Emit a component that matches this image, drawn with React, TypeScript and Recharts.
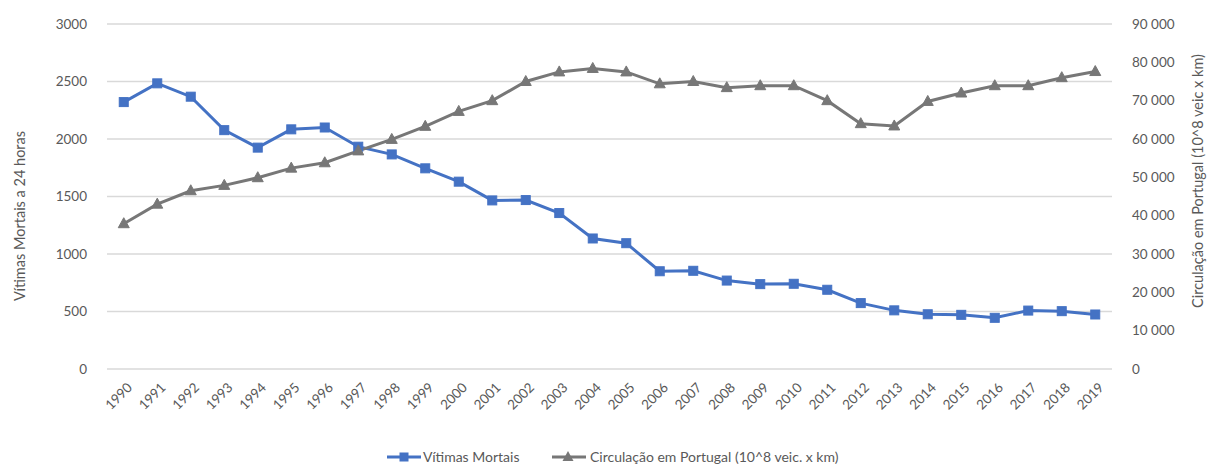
import { CartesianGrid, Legend, Line, LineChart, XAxis, YAxis } from 'recharts'

const years = [
  '1990', '1991', '1992', '1993', '1994', '1995', '1996', '1997', '1998', '1999',
  '2000', '2001', '2002', '2003', '2004', '2005', '2006', '2007', '2008', '2009',
  '2010', '2011', '2012', '2013', '2014', '2015', '2016', '2017', '2018', '2019',
]
const vitimas = [
  2321, 2484, 2368, 2077, 1925, 2084, 2100, 1933, 1866, 1745,
  1629, 1466, 1469, 1356, 1135, 1094, 850, 854, 769, 738,
  741, 689, 573, 510, 476, 471, 445, 508, 503, 474,
]
const circulacao = [
  37900, 43000, 46500, 47900, 49900, 52400, 53800, 56900, 59900, 63300,
  67200, 70000, 75000, 77500, 78400, 77500, 74400, 75000, 73400, 73900,
  73900, 70000, 64000, 63400, 69800, 72000, 73900, 73900, 76000, 77600,
]
const leftTicks = [0, 500, 1000, 1500, 2000, 2500, 3000]
const rightTicks = [0, 10000, 20000, 30000, 40000, 50000, 60000, 70000, 80000, 90000]

const BLUE = '#4472c4'
const GREY = '#777777'
const TEXT = '#595959'
const FONT = 'Lato, "Open Sans", sans-serif'

const rows = years.map((year, i) => ({ year, vitimas: vitimas[i], circulacao: circulacao[i] }))

const fmtThousands = (v: number) => (v >= 1000 ? `${Math.floor(v / 1000)} ${String(v % 1000).padStart(3, '0')}` : String(v))

function SquareDot({ cx, cy }: any) {
  if (cx == null || cy == null) return null
  return <rect x={cx - 4.5} y={cy - 4.5} width={9} height={9} fill={BLUE} stroke={BLUE} strokeWidth={1} />
}

function TriangleDot({ cx, cy }: any) {
  if (cx == null || cy == null) return null
  return <polygon points={`${cx},${cy - 6} ${cx + 5.5},${cy + 4} ${cx - 5.5},${cy + 4}`} fill={GREY} stroke={GREY} strokeWidth={1} />
}

function YearTick({ x, y, payload }: any) {
  return (
    <text
      x={x + 2}
      y={y + 4}
      transform={`rotate(-45, ${x + 2}, ${y + 4})`}
      textAnchor="end"
      dominantBaseline="hanging"
      fill={TEXT}
      fontSize={13.5}
      fontFamily={FONT}
    >
      {payload.value}
    </text>
  )
}

// axis titles, rotated like the Excel original
function AxisTitle({ posX, posY, text }: { posX: number; posY: number; text: string }) {
  return (
    <text
      x={posX}
      y={posY}
      transform={`rotate(-90, ${posX}, ${posY})`}
      textAnchor="middle"
      dominantBaseline="central"
      fill={TEXT}
      fontSize={14.5}
      fontFamily={FONT}
    >
      {text}
    </text>
  )
}

function ChartLegend() {
  return (
    <div style={{ position: 'relative', height: 18, fontFamily: FONT, fontSize: 14, color: TEXT, lineHeight: '18px' }}>
      <svg width={36} height={18} style={{ position: 'absolute', left: 386, top: 0 }}>
        <line x1={1} y1={9} x2={35} y2={9} stroke={BLUE} strokeWidth={3} />
        <rect x={13.5} y={4.5} width={9} height={9} fill={BLUE} />
      </svg>
      <span style={{ position: 'absolute', left: 423, top: 0, whiteSpace: 'nowrap' }}>Vítimas Mortais</span>
      <svg width={36} height={18} style={{ position: 'absolute', left: 551, top: 0 }}>
        <line x1={1} y1={9} x2={35} y2={9} stroke={GREY} strokeWidth={3} />
        <polygon points="17,3 22.5,13 11.5,13" fill={GREY} />
      </svg>
      <span style={{ position: 'absolute', left: 590, top: 0, whiteSpace: 'nowrap' }}>
        Circulação em Portugal (10^8 veic. x km)
      </span>
    </div>
  )
}

export default function App() {
  return (
    <div style={{ width: 1210, height: 466, background: '#fff' }}>
      <style>{'body{margin:0}'}</style>
      <LineChart width={1210} height={466} data={rows} margin={{ top: 24, right: 0, bottom: 0, left: 0 }}>
        <CartesianGrid yAxisId="left" vertical={false} stroke="#d9d9d9" strokeWidth={1.5} />
        <XAxis
          dataKey="year"
          scale="band"
          interval={0}
          axisLine={false}
          tickLine={false}
          height={79}
          tick={<YearTick />}
        />
        <YAxis
          yAxisId="left"
          domain={[0, 3000]}
          ticks={leftTicks}
          width={107}
          axisLine={false}
          tickLine={false}
          tickMargin={14}
          tick={{ fill: TEXT, fontSize: 13.5, fontFamily: FONT }}
          label={<AxisTitle posX={19} posY={216} text="Vítimas Mortais a 24 horas" />}
        />
        <YAxis
          yAxisId="right"
          orientation="right"
          domain={[0, 90000]}
          ticks={rightTicks}
          width={98}
          axisLine={false}
          tickLine={false}
          tickMargin={14}
          tickFormatter={fmtThousands}
          tick={{ fill: TEXT, fontSize: 13.5, fontFamily: FONT }}
          label={<AxisTitle posX={1197} posY={181} text="Circulação em Portugal (10^8 veic x km)" />}
        />
        <Legend verticalAlign="bottom" content={() => <ChartLegend />} wrapperStyle={{ left: 0, width: 1210 }} />
        <Line
          yAxisId="left"
          dataKey="vitimas"
          name="Vítimas Mortais"
          stroke={BLUE}
          strokeWidth={3}
          dot={<SquareDot />}
          activeDot={false}
          isAnimationActive={false}
        />
        <Line
          yAxisId="right"
          dataKey="circulacao"
          name="Circulação em Portugal (10^8 veic. x km)"
          stroke={GREY}
          strokeWidth={3}
          dot={<TriangleDot />}
          activeDot={false}
          isAnimationActive={false}
        />
      </LineChart>
    </div>
  )
}
